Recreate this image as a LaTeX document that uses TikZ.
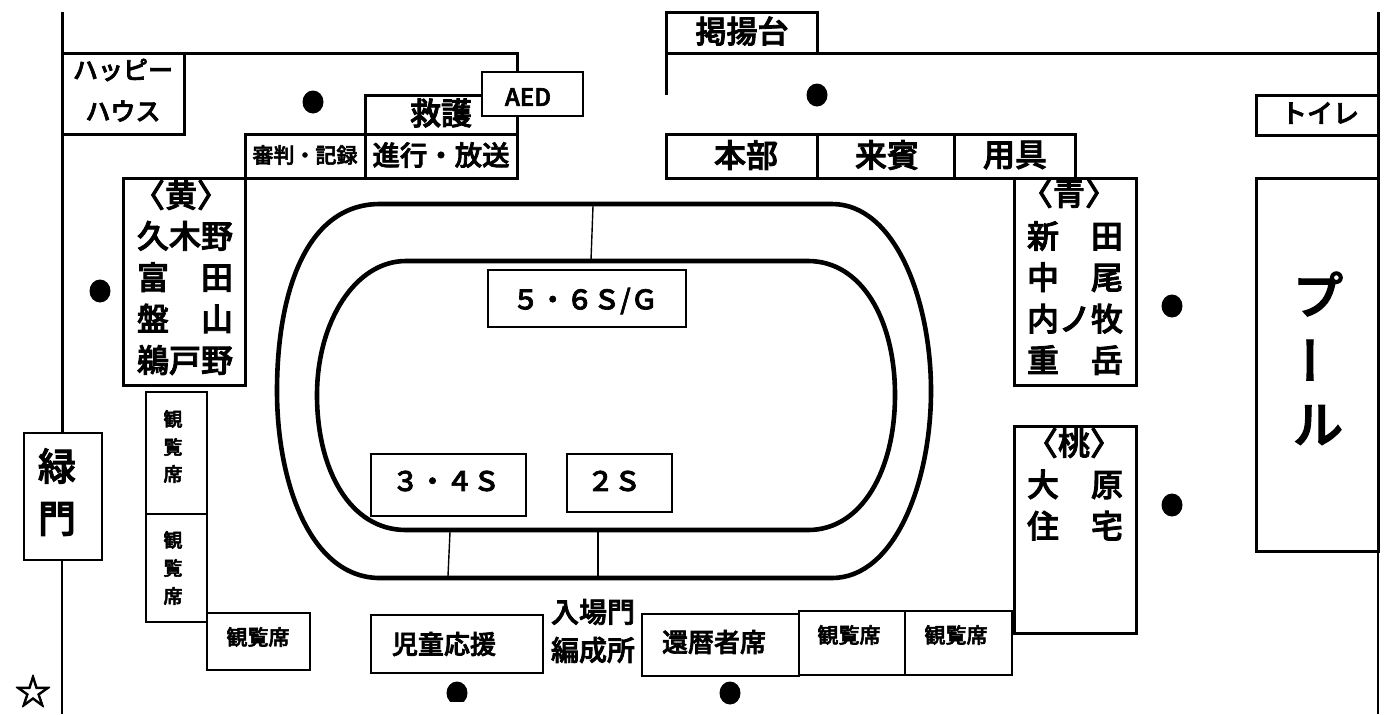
\documentclass[tikz,border=0pt]{standalone}
\usepackage{fontspec}
\setmainfont{Noto Sans CJK JP Medium}[FakeBold=2.6]
\newcommand{\fsz}[1]{\fontsize{#1}{20.7}\selectfont}
\usetikzlibrary{shapes.geometric}
\tikzset{
	wall/.style={line width=1.5pt},
	track/.style={line width=2.3pt},
	thick box/.style={draw,line width=1.5pt,fill=white,inner sep=0pt},
	thin box/.style={draw,line width=0.8pt,fill=white,inner sep=0pt},
	txt/.style={inner sep=0pt,align=center},
	dot/.style={ellipse,fill=black,minimum width=10.5pt,minimum height=11.5pt,inner sep=0pt}
}
\begin{document}
\begin{tikzpicture}[x=0.5pt,y=-0.5pt]
	\useasboundingbox (0,0) rectangle (1386,714);
	% Walls
	\draw[wall] (62,12) -- (62,433);
	\draw[line width=1pt] (62,560) -- (62,714);
	\draw[wall] (62,53) -- (517,53) -- (517,178);
	\draw[wall] (666,95) -- (666,53) -- (1378,53);
	\draw[wall] (1378,12) -- (1378,551);
	\draw[line width=1pt] (1378,551) -- (1378,714);
	% Track
	\draw[track] (380,204) .. controls (305,204) and (277,295) .. (277,391)
		.. controls (277,482) and (310,578) .. (380,578) -- (832,578)
		.. controls (895,578) and (931,482) .. (931,391)
		.. controls (931,300) and (895,204) .. (832,204) -- cycle;
	\draw[track] (406,261) .. controls (355,261) and (317,322) .. (317,395)
		.. controls (317,470) and (350,530) .. (406,530) -- (808,530)
		.. controls (862,530) and (895,470) .. (895,395)
		.. controls (895,320) and (862,261) .. (808,261) -- cycle;
	\draw[line width=0.7pt] (593,206) -- (591,260);
	\draw[line width=0.7pt] (450,532) -- (448,576);
	\draw[line width=0.7pt] (598,532) -- (598,576);
	% Buildings, top left
	\node[thick box,minimum width=61pt,minimum height=40.5pt] (Happy) at (123,93.5) {};
	\node[thick box,minimum width=76pt,minimum height=20pt] (Kyugo) at (441,115) {};
	\node[thick box,minimum width=60pt,minimum height=22pt] (Shinpan) at (305,156) {};
	\node[thick box,minimum width=76pt,minimum height=22pt] (Shinko) at (441,156) {};
	\node[thin box,minimum width=50.5pt,minimum height=22pt] (AED) at (532.5,94) {};
	\node[thick box,minimum width=61pt,minimum height=103.5pt] (Yellow) at (184,281.5) {};
	% Buildings, top right
	\node[thick box,minimum width=75.5pt,minimum height=20.5pt] (Keiyo) at (741.5,32.5) {};
	\node[thick box,minimum width=75.5pt,minimum height=22pt] (Honbu) at (741.5,156) {};
	\node[thick box,minimum width=68.5pt,minimum height=22pt] (Raihin) at (885.5,156) {};
	\node[thick box,minimum width=60.5pt,minimum height=22pt] (Yogu) at (1014.5,156) {};
	\node[thick box,minimum width=61pt,minimum height=20pt] (Toilet) at (1317,115) {};
	\node[thick box,minimum width=61pt,minimum height=186.5pt] (Pool) at (1317,364.5) {};
	\node[thick box,minimum width=61pt,minimum height=103.5pt] (Blue) at (1075,281.5) {};
	\node[thick box,minimum width=61pt,minimum height=103.5pt] (Pink) at (1075,529.5) {};
	% Left and bottom
	\node[draw,line width=1.2pt,fill=white,inner sep=0pt,minimum width=39pt,minimum height=63.5pt] (Midori) at (63,496.5) {};
	\node[thin box,minimum width=30.5pt,minimum height=61pt] (SeatA) at (176.5,453) {};
	\node[thin box,minimum width=30.5pt,minimum height=54pt] (SeatB) at (176.5,568) {};
	\node[thin box,minimum width=51.5pt,minimum height=28.5pt] (SeatC) at (258.5,641.5) {};
	\node[draw,line width=1pt,fill=white,inner sep=0pt,minimum width=86pt,minimum height=29pt] (Oen) at (457,644) {};
	\node[draw,line width=1pt,fill=white,inner sep=0pt,minimum width=78.5pt,minimum height=31pt] (Kanreki) at (720.5,645) {};
	\node[thin box,minimum width=53pt,minimum height=32pt] (SeatD) at (852,643) {};
	\node[thin box,minimum width=53.5pt,minimum height=32pt] (SeatE) at (958.5,643) {};
	\node[thin box,minimum width=99pt,minimum height=28.5pt] (SchoolG) at (587,298.5) {};
	\node[thin box,minimum width=77.5pt,minimum height=31pt] (SchoolB) at (448.5,485) {};
	\node[thin box,minimum width=52.5pt,minimum height=29pt] (SchoolC) at (619.5,483) {};
	% Labels
	\node[txt,font=\fsz{12.5}] (HappyA) at (123,70) {ハッピー};
	\node[txt,font=\fsz{12.5}] (HappyB) at (123,111) {ハウス};
	\node[txt,font=\fsz{15.5}] (KyugoT) at (441,113) {救護};
	\node[txt,font=\fsz{10.5}] (ShinpanT) at (305,155) {審判・記録};
	\node[txt,font=\fsz{13.7}] (ShinkoT) at (441,155) {進行・放送};
	\node[txt,font=\fsz{12}] (AEDT) at (528,97) {AED};
	\node[txt,font=\fsz{15.5}] (KeiyoT) at (742,31) {掲揚台};
	\node[txt,font=\fsz{16}] (HonbuT) at (746,155) {本部};
	\node[txt,font=\fsz{16}] (RaihinT) at (887,155) {来賓};
	\node[txt,font=\fsz{16}] (YoguT) at (1015,155) {用具};
	\node[txt,font=\fsz{13}] (ToiletT) at (1320,113) {トイレ};
	\node[txt,font=\fsz{16}] (YellowH) at (181,195) {〈黄〉};
	\node[txt,font=\fsz{16}] (YellowT) at (185,298) {久木野\\富　田\\盤　山\\鵜戸野};
	\node[txt,font=\fsz{16}] (BlueH) at (1069,193) {〈青〉};
	\node[txt,font=\fsz{16}] (BlueT) at (1075,298) {新　田\\中　尾\\内ノ牧\\重　岳};
	\node[txt,font=\fsz{16}] (PinkH) at (1074,443) {〈桃〉};
	\node[txt,font=\fsz{16}] (PinkT) at (1075,505) {大　原\\住　宅};
	\node[txt,font=\fsz{19}] (MidoriA) at (57,466) {緑};
	\node[txt,font=\fsz{19}] (MidoriB) at (57,519) {門};
	\node[txt,font=\fsz{25}] (PoolA) at (1318,294) {プ};
	\node[txt,font=\fsz{25},rotate=90] (PoolB) at (1318,360) {ー};
	\node[txt,font=\fsz{25}] (PoolC) at (1318,425) {ル};
	\node[txt,font=\fsz{9.5}] (SeatAa) at (173,419) {観};
	\node[txt,font=\fsz{9.5}] (SeatAb) at (173,447) {覧};
	\node[txt,font=\fsz{9.5}] (SeatAc) at (173,474) {席};
	\node[txt,font=\fsz{9.5}] (SeatBa) at (173,540) {観};
	\node[txt,font=\fsz{9.5}] (SeatBb) at (173,568) {覧};
	\node[txt,font=\fsz{9.5}] (SeatBc) at (173,596) {席};
	\node[txt,font=\fsz{10.5}] (SeatCT) at (258,637) {観覧席};
	\node[txt,font=\fsz{13}] (OenT) at (444,644) {児童応援};
	\node[txt,font=\fsz{14}] (GateA) at (593,612) {入場門};
	\node[txt,font=\fsz{14}] (GateB) at (593,650) {編成所};
	\node[txt,font=\fsz{13}] (KanrekiT) at (714,642) {還暦者席};
	\node[txt,font=\fsz{10.5}] (SeatDT) at (849,635) {観覧席};
	\node[txt,font=\fsz{10.5}] (SeatET) at (956,635) {観覧席};
	\node[txt,font=\fsz{13.5}] (SchoolGT) at (585,301) {５・６Ｓ/Ｇ};
	\node[txt,font=\fsz{13.5}] (SchoolBT) at (446,481) {３・４Ｓ};
	\node[txt,font=\fsz{13.5}] (SchoolCT) at (614,481) {２Ｓ};
	\node[txt,font=\fsz{18}] (Star) at (33,691) {☆};
	% Dots
	\node[dot] (DotA) at (313,102) {};
	\node[dot] (DotB) at (817,95) {};
	\node[dot] (DotC) at (100,291) {};
	\node[dot] (DotD) at (1172,306) {};
	\node[dot] (DotE) at (1172,505) {};
	\node[dot] (DotF) at (730,693) {};
	\begin{scope}
		\clip (440,670) rectangle (475,701);
		\node[dot] (DotG) at (457,693) {};
	\end{scope}
\end{tikzpicture}
\end{document}
